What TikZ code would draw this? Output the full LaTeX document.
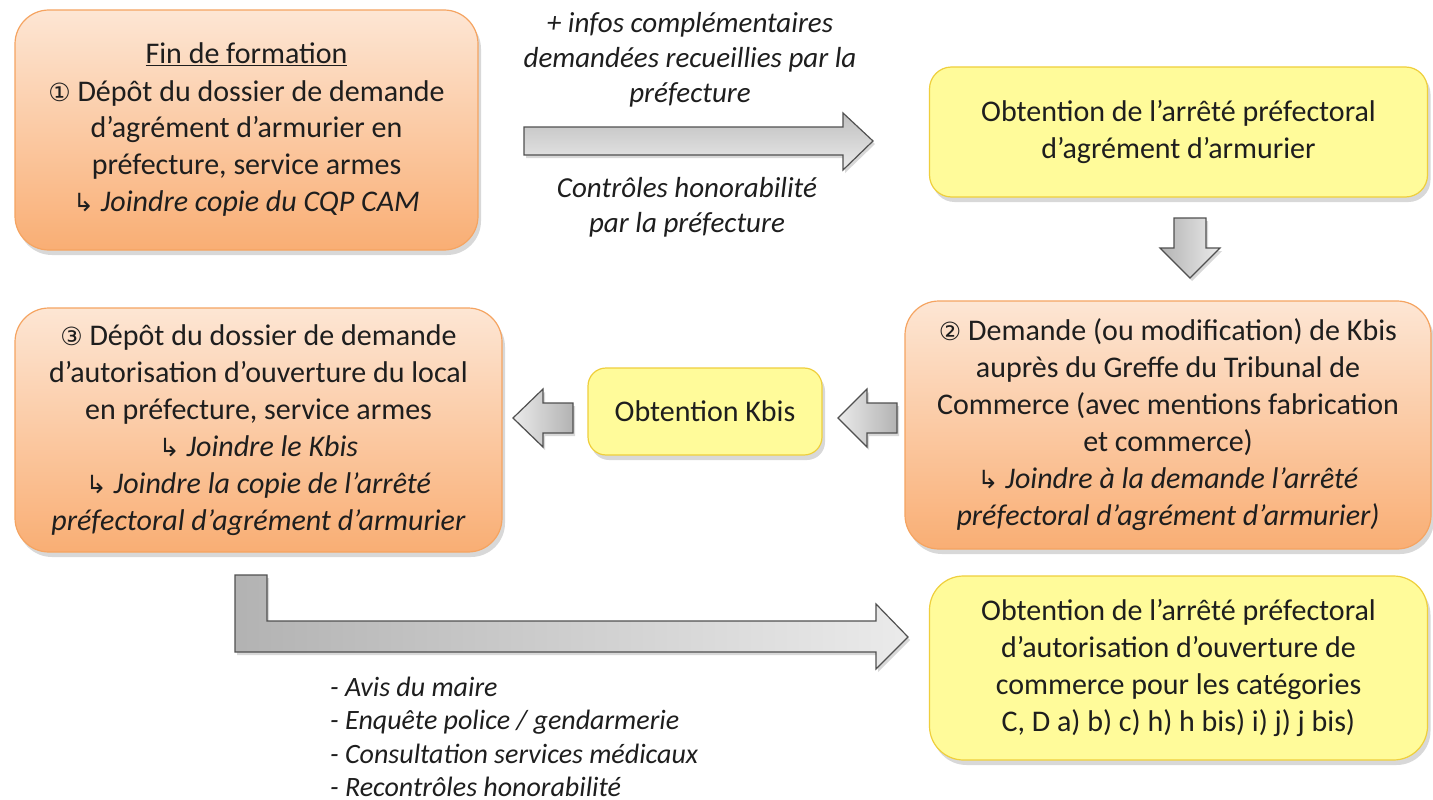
\documentclass[tikz,border=0pt]{standalone}
\usepackage{fontspec}
\setmainfont{Carlito}
\newfontfamily\symfont{DejaVu Sans}
\usetikzlibrary{shadows}
\definecolor{txt}{HTML}{1E1E1E}
\definecolor{otop}{HTML}{FDE6D4}
\definecolor{obot}{HTML}{F9AE74}
\definecolor{oborder}{HTML}{F5A461}
\definecolor{yfill}{HTML}{FFFB9A}
\definecolor{yborder}{HTML}{EFCF3C}
\definecolor{aborder}{HTML}{505050}
\newcommand{\jn}{{\symfont\fontsize{25}{25}\selectfont ↳}}
\newcommand{\cn}[1]{{\symfont\fontsize{25}{25}\selectfont #1}}
\tikzset{
  boxshadow/.style={drop shadow={shadow xshift=3pt,shadow yshift=-5pt,opacity=0.25,fill=black!60}},
  obox/.style={draw=oborder,line width=1.2pt,rounded corners=34pt,top color=otop,bottom color=obot,
    boxshadow,align=center,text=txt,font=\fontsize{30}{37}\selectfont,inner sep=0pt},
  ybox/.style={draw=yborder,line width=1.2pt,rounded corners=22pt,fill=yfill,
    boxshadow,align=center,text=txt,font=\fontsize{30}{37}\selectfont,inner sep=0pt},
  blockarrow/.style={draw=aborder,line width=1.2pt,line join=miter,
    drop shadow={shadow xshift=2pt,shadow yshift=-3pt,opacity=0.25,fill=black!60}},
  lbl/.style={align=center,text=txt,font=\fontsize{29}{35}\selectfont\itshape,inner sep=0pt},
}
\begin{document}
\begin{tikzpicture}[x=1pt,y=-1pt]
\useasboundingbox (0,0) rectangle (1433,800);
\fill[white] (0,0) rectangle (1433,800);

% boxes
\node[obox,minimum width=463,minimum height=240] (b1) at (246.5,130)
 {\underline{Fin de formation}\\
  \cn{①} Dépôt du dossier de demande\\
  d’agrément d’armurier en\\
  préfecture, service armes\\
  \jn\ \textit{Joindre copie du CQP CAM}};

\node[ybox,minimum width=498,minimum height=130] (y1) at (1178.5,132)
 {Obtention de l’arrêté préfectoral\\ d’agrément d’armurier};

\node[obox,minimum width=526,minimum height=248] (b2) at (1168,425)
 {\cn{②} Demande (ou modification) de Kbis\\
  auprès du Greffe du Tribunal de\\
  Commerce (avec mentions fabrication\\
  et commerce)\\
  \jn\ \textit{Joindre à la demande l’arrêté}\\
  \textit{préfectoral d’agrément d’armurier)}};

\node[ybox,minimum width=234,minimum height=87,rounded corners=18pt] (kb) at (705,411.5)
 {Obtention Kbis};

\node[obox,minimum width=487,minimum height=244] (b3) at (258.5,430)
 {\cn{③} Dépôt du dossier de demande\\
  d’autorisation d’ouverture du local\\
  en préfecture, service armes\\
  \jn\ \textit{Joindre le Kbis}\\
  \jn\ \textit{Joindre la copie de l’arrêté}\\
  \textit{préfectoral d’agrément d’armurier}};

\node[ybox,minimum width=498,minimum height=184,rounded corners=34pt] (y2) at (1178.5,668)
 {Obtention de l’arrêté préfectoral\\
  d’autorisation d’ouverture de\\
  commerce pour les catégories\\
  C, D a) b) c) h) h bis) i) j) j bis)};

% block arrows
\path[blockarrow,top color=black!25,bottom color=black!8]
  (524,127) -- (843,127) -- (843,113) -- (873,141) -- (843,170) -- (843,155) -- (524,155) -- cycle;
\path[blockarrow,left color=black!30,right color=black!8]
  (1174,218) -- (1206,218) -- (1206,248) -- (1220,248) -- (1190,278) -- (1160,248) -- (1174,248) -- cycle;
\path[blockarrow,left color=black!8,right color=black!30]
  (897,403) -- (867,403) -- (867,389) -- (838,418) -- (867,447) -- (867,433) -- (897,433) -- cycle;
\path[blockarrow,left color=black!8,right color=black!30]
  (573,403) -- (543,403) -- (543,389) -- (513,418) -- (543,447) -- (543,433) -- (573,433) -- cycle;
\path[blockarrow,left color=black!30,right color=black!8]
  (235,575) -- (267,575) -- (267,621) -- (876,621) -- (876,604) -- (908,637) -- (876,669)
  -- (876,652) -- (235,652) -- cycle;

% labels
\node[lbl] (l1) at (690,60)
 {+ infos complémentaires\\ demandées recueillies par la\\ préfecture};
\node[lbl] (l2) at (687,207)
 {Contrôles honorabilité\\ par la préfecture};
\node[lbl,align=left,anchor=west,font=\fontsize{28}{33.5}\selectfont\itshape] (l3) at (330,737)
 {- Avis du maire\\
  - Enquête police / gendarmerie\\
  - Consultation services médicaux\\
  - Recontrôles honorabilité};
\end{tikzpicture}
\end{document}
